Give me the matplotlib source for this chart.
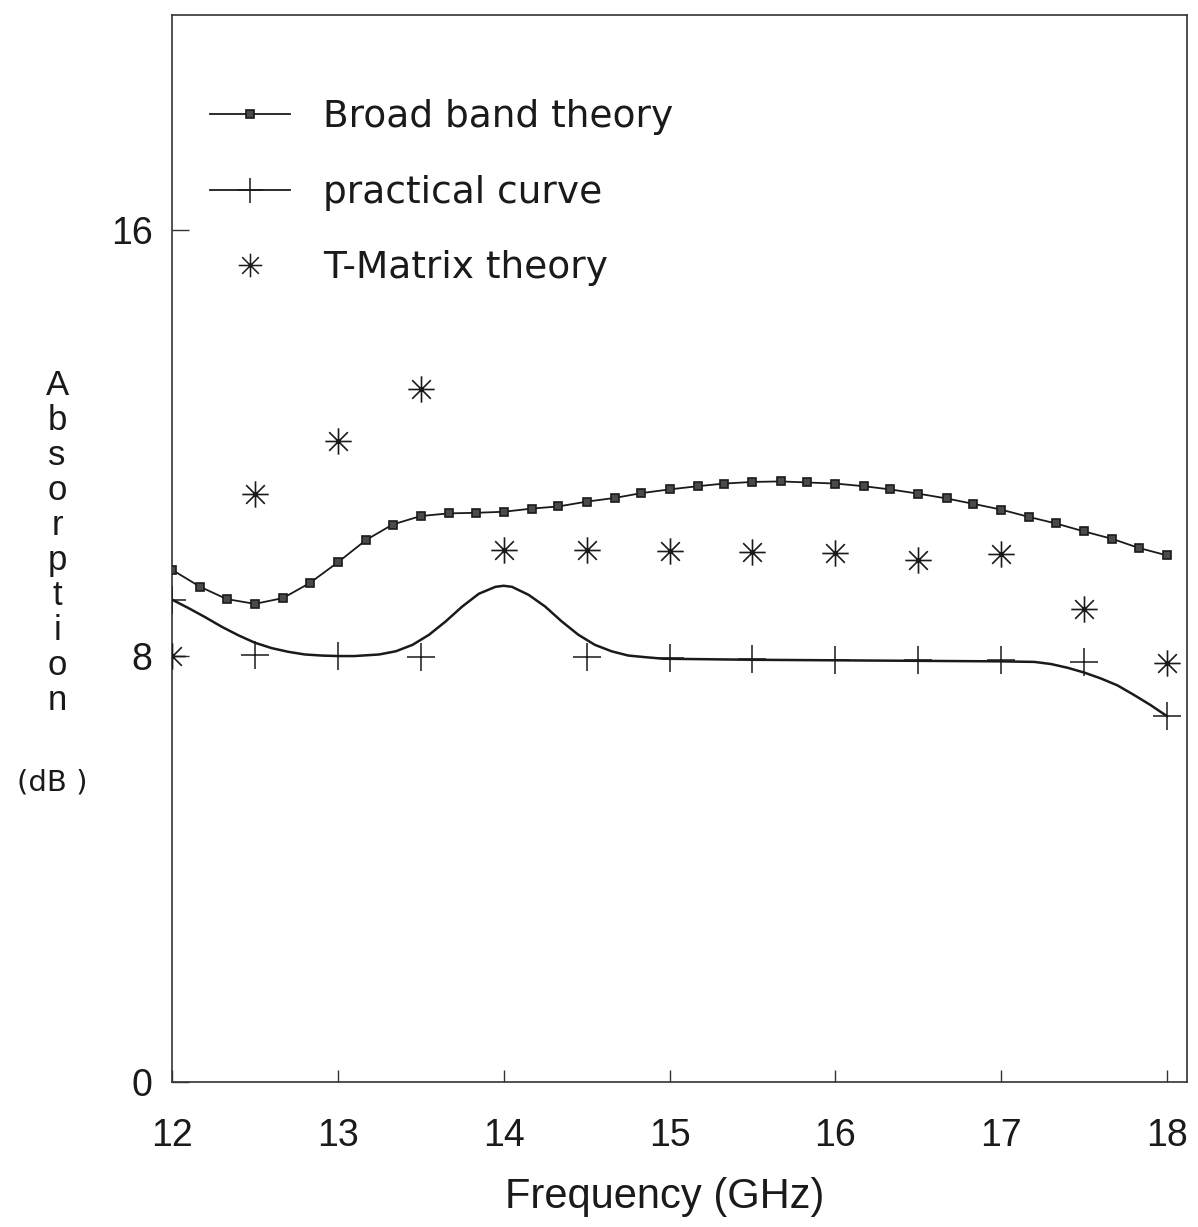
import numpy as np
import matplotlib
matplotlib.use("Agg")
import matplotlib.pyplot as plt
from matplotlib.path import Path
from matplotlib.lines import Line2D

# ---------------- data ----------------
bb_freq = [12.0, 12.17, 12.33, 12.5, 12.67, 12.83, 13.0, 13.17, 13.33, 13.5,
           13.67, 13.83, 14.0, 14.17, 14.33, 14.5, 14.67, 14.83, 15.0, 15.17,
           15.33, 15.5, 15.67, 15.83, 16.0, 16.17, 16.33, 16.5, 16.67, 16.83,
           17.0, 17.17, 17.33, 17.5, 17.67, 17.83, 18.0]
bb_abs = [9.62, 9.30, 9.07, 8.98, 9.09, 9.37, 9.76, 10.18, 10.47, 10.63,
          10.68, 10.69, 10.71, 10.77, 10.81, 10.90, 10.97, 11.06, 11.13, 11.19,
          11.24, 11.27, 11.28, 11.26, 11.24, 11.19, 11.13, 11.05, 10.96, 10.86,
          10.75, 10.61, 10.49, 10.34, 10.20, 10.03, 9.89]

pc_curve_freq = [12.0, 12.1, 12.2, 12.3, 12.4, 12.5, 12.6, 12.7, 12.8, 12.9,
                 13.0, 13.1, 13.2, 13.25, 13.35, 13.45, 13.55, 13.65, 13.75, 13.85,
                 13.95, 14.0, 14.05, 14.15, 14.25, 14.35, 14.45, 14.55, 14.65, 14.75,
                 14.85, 14.96, 15.5, 16.0, 16.5, 17.0, 17.2, 17.3, 17.4, 17.5,
                 17.6, 17.7, 17.8, 17.9, 18.0]
pc_curve_abs = [9.06, 8.90, 8.73, 8.55, 8.39, 8.25, 8.15, 8.08, 8.03, 8.01,
                8.00, 8.00, 8.02, 8.03, 8.09, 8.21, 8.40, 8.65, 8.93, 9.17,
                9.30, 9.32, 9.30, 9.15, 8.93, 8.65, 8.40, 8.21, 8.09, 8.01,
                7.98, 7.95, 7.93, 7.92, 7.91, 7.90, 7.89, 7.85, 7.78, 7.69,
                7.58, 7.45, 7.27, 7.08, 6.87]

pc_pts_freq = [12.0, 12.5, 13.0, 13.5, 14.5, 15.0, 15.5, 16.0, 16.5, 17.0, 17.5, 18.0]
pc_pts_abs = [9.06, 8.02, 8.00, 7.99, 7.99, 7.96, 7.94, 7.93, 7.92, 7.92, 7.89, 6.87]

tm_freq = [12.0, 12.5, 13.0, 13.5, 14.0, 14.5, 15.0, 15.5, 16.0, 16.5, 17.0, 17.5, 18.0]
tm_abs = [8.0, 11.05, 12.04, 13.01, 10.0, 9.99, 9.97, 9.95, 9.94, 9.80, 9.92, 8.89, 7.87]

x_ticks = [12, 13, 14, 15, 16, 17, 18]
y_ticks = [0, 8, 16]

labels = ["Broad band theory", "practical curve", "T-Matrix theory"]

# ---------------- figure ----------------
W, H = 1198, 1227
fig = plt.figure(figsize=(W / 100, H / 100), dpi=100)
ax = fig.add_axes([172 / W, 1 - 1082 / H, (1187 - 172) / W, (1082 - 15) / H])
ax.set_xlim(12, 18.12)
ax.set_ylim(0, 20.04)

# 8-spoke asterisk marker
c, s = 0.7071, 0.7071
ast_verts = [(-1, 0), (1, 0), (0, -1), (0, 1), (-c, -s), (c, s), (-c, s), (c, -s)]
ast_codes = [Path.MOVETO, Path.LINETO] * 4
asterisk = Path(ast_verts, ast_codes)

ink = "#1a1a1a"

ax.plot(bb_freq, bb_abs, color=ink, lw=1.3, marker="s", ms=5.5,
        mfc="#4a4a4a", mec=ink, mew=1.2, zorder=3)
ax.plot(pc_curve_freq, pc_curve_abs, color=ink, lw=1.8, zorder=3)
ax.plot(pc_pts_freq, pc_pts_abs, ls="none", marker="+", ms=20, mew=1.1,
        color=ink, zorder=3)
ax.plot(tm_freq, tm_abs, ls="none", marker=asterisk, ms=19, mew=1.2,
        color=ink, zorder=4)

# axes styling
for sp in ax.spines.values():
    sp.set_linewidth(1.2)
    sp.set_color("#333333")

ax.set_xticks(x_ticks)
ax.set_yticks(y_ticks)
ax.set_xticklabels([str(t) for t in x_ticks])
ax.set_yticklabels([str(t) for t in y_ticks])
ax.tick_params(axis="both", direction="in", color="#333333", width=1.0)
ax.tick_params(axis="x", length=9, pad=26)
ax.tick_params(axis="y", length=12, pad=14)
for lab in ax.get_xticklabels() + ax.get_yticklabels():
    lab.set_fontfamily("Liberation Sans")
    lab.set_fontsize(27)
    lab.set_color(ink)

# axis labels
fig.text(665 / W, 1 - 1197 / H, "Frequency (GHz)", ha="center", va="center",
         fontsize=30, family="Liberation Sans", color=ink)
fig.text(57 / W, 1 - 543 / H, "\n".join("Absorption"), ha="center", va="center",
         fontsize=25, family="Liberation Sans", color=ink, linespacing=1.08)
fig.text(52 / W, 1 - 782 / H, "(dB )", ha="center", va="center",
         fontsize=21, family="DejaVu Sans", color=ink)

# legend
h1 = Line2D([], [], color=ink, lw=1.3, marker="s", ms=5.5, mfc="#4a4a4a", mec=ink, mew=1.2)
h2 = Line2D([], [], color=ink, lw=1.3, marker="+", ms=18, mew=1.1)
h3 = Line2D([], [], color=ink, ls="none", marker=asterisk, ms=17, mew=1.1)
leg = ax.legend([h1, h2, h3], labels, loc="upper left",
                bbox_to_anchor=(210 / W, 1 - 99 / H), bbox_transform=fig.transFigure,
                frameon=False, borderpad=0, borderaxespad=0, numpoints=1,
                handlelength=2.13, handletextpad=0.88, labelspacing=1.06,
                prop={"family": "DejaVu Sans", "size": 27})
for t in leg.get_texts():
    t.set_color(ink)

fig.savefig("out.png", dpi=100, facecolor="white")
